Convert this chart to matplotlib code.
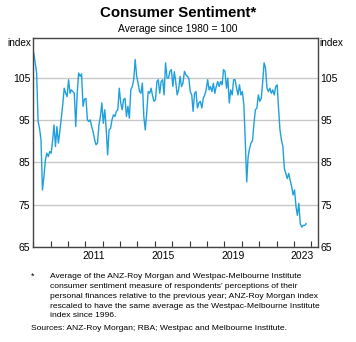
import matplotlib
matplotlib.use('Agg')
import matplotlib.pyplot as plt
import matplotlib.dates as mdates
import pandas as pd

plt.rcParams['font.family'] = ['Liberation Sans', 'DejaVu Sans']

# monthly index, Jan 2008 to Sep 2023
sentiment = [
    110.9, 108.5, 106.2, 94.7, 93.1, 90.3, 78.5, 81.6, 85.6, 87.2, 86.4, 87.6,
    87.2, 90.3, 93.9, 88.8, 93.5, 89.6, 92.3, 95.5, 98.7, 102.6, 101.4, 100.6,
    104.6, 101.4, 102.2, 101.8, 101.4, 93.5, 101.4, 106.2, 105.4, 106.0, 98.3, 100.0,
    100.2, 95.1, 94.7, 95.1, 93.5, 92.3, 90.5, 89.2, 89.6, 93.9, 95.9, 99.1,
    94.3, 97.5, 93.1, 86.8, 92.7, 93.1, 95.1, 96.3, 95.9, 97.1, 97.5, 102.6,
    99.1, 97.5, 99.9, 100.2, 95.9, 98.3, 95.5, 102.2, 103.0, 104.6, 109.4, 105.5,
    103.8, 101.8, 101.4, 103.8, 95.9, 92.7, 96.7, 101.8, 101.4, 102.6, 100.8, 99.5,
    99.9, 104.2, 104.6, 101.4, 104.2, 104.6, 101.0, 108.6, 105.0, 105.0, 106.6, 107.0,
    103.0, 106.5, 104.2, 101.0, 102.2, 105.4, 103.0, 103.8, 106.6, 105.8, 105.4, 105.0,
    101.8, 101.0, 97.1, 101.4, 101.8, 97.9, 99.1, 99.5, 97.9, 100.2, 101.0, 102.2,
    104.6, 102.2, 103.0, 101.8, 103.8, 101.4, 103.0, 104.2, 103.0, 104.2, 103.4, 107.0,
    106.6, 102.6, 105.0, 99.1, 102.2, 101.0, 104.6, 104.6, 102.6, 101.0, 103.4, 101.0,
    101.8, 98.7, 90.3, 80.4, 86.4, 88.4, 89.6, 90.2, 94.3, 97.5, 97.9, 101.0,
    99.5, 100.2, 103.8, 108.6, 107.4, 102.6, 101.8, 102.6, 101.4, 102.2, 101.0, 103.0,
    103.4, 97.5, 92.7, 90.3, 88.8, 83.6, 82.4, 81.2, 82.4, 80.8, 79.3, 77.3,
    78.5, 74.5, 72.5, 75.3, 70.5, 69.7, 70.1, 70.1, 70.5,
]
dates = pd.date_range('2008-01-01', periods=len(sentiment), freq='MS') + pd.Timedelta(days=14)

y_ticks = [65, 75, 85, 95, 105]
year_labels = [2011, 2015, 2019, 2023]

blue = '#1fa0dd'

fig = plt.figure(figsize=(3.56, 3.42), dpi=100)
ax = fig.add_axes([0.093, 0.278, 0.800, 0.611])

ax.plot(dates, sentiment, color=blue, lw=1.0)

ax.set_ylim(65, 114.5)
ax.set_xlim(pd.Timestamp('2008-01-01'), pd.Timestamp('2024-05-20'))
ax.set_yticks(y_ticks)
ax.yaxis.grid(True, color='#c8c8c8', lw=1.0)
ax.set_axisbelow(True)
ax.tick_params(axis='y', length=0, labelsize=7.5, labelright=True, pad=2)

# year ticks at January, labels at mid-year
ax.xaxis.set_major_locator(mdates.YearLocator())
ax.xaxis.set_major_formatter(plt.NullFormatter())
ax.set_xticks([pd.Timestamp(f'{y}-07-01') for y in year_labels], minor=True)
ax.set_xticklabels([str(y) for y in year_labels], minor=True)
ax.tick_params(axis='x', which='major', direction='in', length=4, width=0.8, color='#333333')
ax.tick_params(axis='x', which='minor', length=0, labelsize=7.5, pad=3)

for s in ax.spines.values():
    s.set_color('#444444')
    s.set_linewidth(1.0)

fig.text(0.5, 0.962, 'Consumer Sentiment*', ha='center', va='center',
         fontsize=10.8, fontweight='bold')
fig.text(0.5, 0.915, 'Average since 1980 = 100', ha='center', va='center', fontsize=7.4)
fig.text(0.088, 0.874, 'index', ha='right', va='center', fontsize=7.2)
fig.text(0.898, 0.874, 'index', ha='left', va='center', fontsize=7.2)

fig.text(0.088, 0.192, '*', ha='left', va='center', fontsize=6.5)
note = ('Average of the ANZ-Roy Morgan and Westpac-Melbourne Institute\n'
        'consumer sentiment measure of respondents\u2019 perceptions of their\n'
        'personal finances relative to the previous year; ANZ-Roy Morgan index\n'
        'rescaled to have the same average as the Westpac-Melbourne Institute\n'
        'index since 1996.')
fig.text(0.140, 0.201, note, ha='left', va='top', fontsize=6.1, linespacing=1.55)
fig.text(0.088, 0.040, 'Sources: ANZ-Roy Morgan; RBA; Westpac and Melbourne Institute.',
         ha='left', va='center', fontsize=6.1)

fig.savefig('out.png', dpi=100)
